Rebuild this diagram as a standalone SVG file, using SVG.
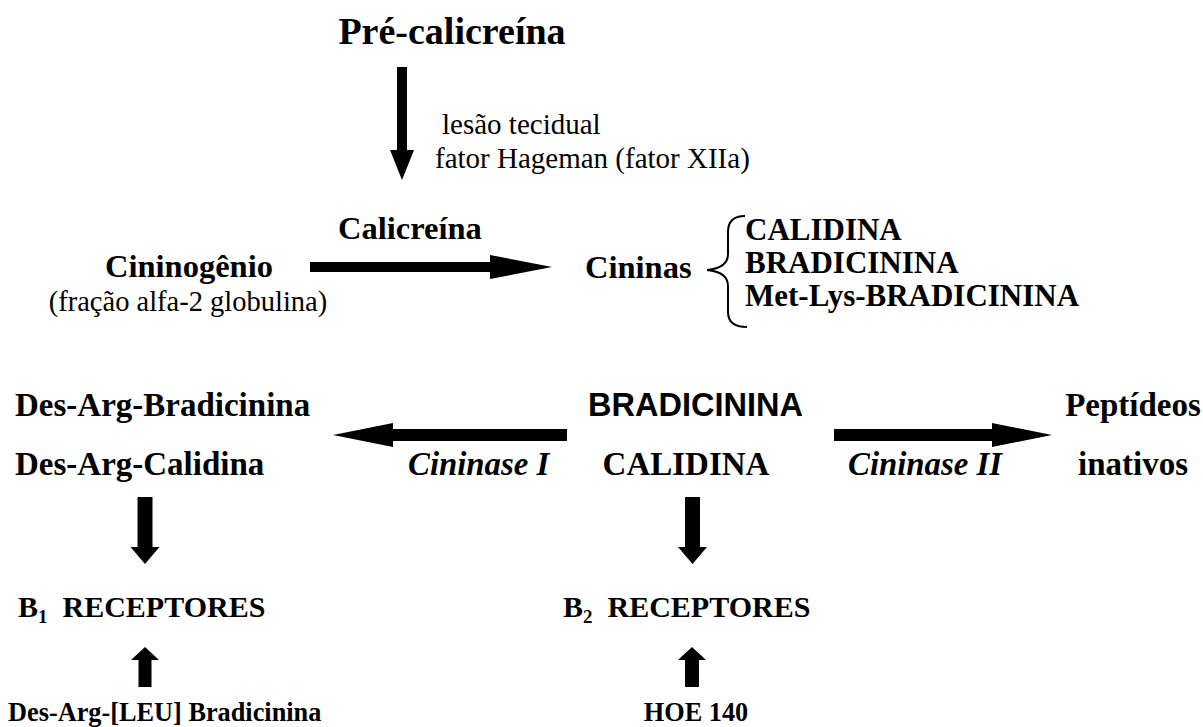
<svg xmlns="http://www.w3.org/2000/svg" width="1203" height="727" viewBox="0 0 1203 727">
<style>
text{fill:#000}
.t{font-family:"Liberation Serif","Times New Roman",serif;font-weight:bold;font-size:38px}
.b{font-family:"Liberation Serif","Times New Roman",serif;font-weight:bold;font-size:32.5px}
.b33{font-family:"Liberation Serif","Times New Roman",serif;font-weight:bold;font-size:33px}
.l{font-family:"Liberation Serif","Times New Roman",serif;font-weight:bold;font-size:31px}
.rc{font-family:"Liberation Serif","Times New Roman",serif;font-weight:bold;font-size:30px}
.bi{font-family:"Liberation Serif","Times New Roman",serif;font-weight:bold;font-style:italic;font-size:32.8px}
.r{font-family:"Liberation Serif","Times New Roman",serif;font-size:29px}
.r2{font-family:"Liberation Serif","Times New Roman",serif;font-size:28.5px}
.s{font-family:"Liberation Sans",Arial,sans-serif;font-weight:bold;font-size:32.5px}
.sm{font-family:"Liberation Serif","Times New Roman",serif;font-weight:bold;font-size:26.3px}
.sub{font-size:19px}
.arr{fill:#000;stroke:none}
.brace{fill:none;stroke:#000;stroke-width:2}
</style>
<rect width="1203" height="727" fill="#fff"/>
<g id="connectors">
<polygon class="arr" points="397,67 407,67 407,150 414,150 402,180 390,150 397,150"/>
<polygon class="arr" points="310,262 490,262 490,255 552,267 490,279 490,272 310,272"/>
<polygon class="arr" points="567,429 393,429 393,423 333,435 393,447 393,441 567,441"/>
<polygon class="arr" points="834,429 992,429 992,423 1052,435 992,447 992,441 834,441"/>
<polygon class="arr" points="137.5,497 152.5,497 152.5,547 159.5,547 145,564 130.5,547 137.5,547"/>
<polygon class="arr" points="685,497 700,497 700,547 707,547 692.5,564 678,547 685,547"/>
<polygon class="arr" points="138.5,687 151.5,687 151.5,660 159,660 145,647 131,660 138.5,660"/>
<polygon class="arr" points="685,687 699,687 699,660 706,660 692,647 678,660 685,660"/>
<path class="brace" d="M745,216 Q728,216 728,232 L728,254 Q728,268 707,270 Q728,272 728,286 L728,312 Q728,327 747,327"/>
</g>
<g id="pre-calicreina"><text class="t" x="452" y="44" text-anchor="middle">Pré-calicreína</text></g>
<g id="ativacao">
<text class="r" x="442" y="134">lesão tecidual</text>
<text class="r" x="435" y="168">fator Hageman (fator XIIa)</text>
</g>
<g id="calicreina"><text class="b" x="338" y="239">Calicreína</text></g>
<g id="cininogenio">
<text class="b" x="189" y="277" text-anchor="middle">Cininogênio</text>
<text class="r2" x="188" y="311" text-anchor="middle">(fração alfa-2 globulina)</text>
</g>
<g id="cininas"><text class="b" x="585" y="278">Cininas</text></g>
<g id="lista-cininas">
<text class="l" x="745" y="240">CALIDINA</text>
<text class="l" x="745" y="273">BRADICININA</text>
<text class="l" x="745" y="306">Met-Lys-BRADICININA</text>
</g>
<g id="des-arg">
<text class="b33" x="15" y="416">Des-Arg-Bradicinina</text>
<text class="b33" x="15" y="475">Des-Arg-Calidina</text>
</g>
<g id="cininase-1"><text class="bi" x="408" y="475">Cininase I</text></g>
<g id="bradicinina-calidina">
<text class="s" x="588" y="416">BRADICININA</text>
<text class="b33" x="686" y="475" text-anchor="middle">CALIDINA</text>
</g>
<g id="cininase-2"><text class="bi" x="848" y="475">Cininase II</text></g>
<g id="peptideos">
<text class="b33" x="1133" y="416" text-anchor="middle">Peptídeos</text>
<text class="b33" x="1133" y="475" text-anchor="middle">inativos</text>
</g>
<g id="b1"><text class="rc" x="18" y="617">B<tspan class="sub" dy="6">1</tspan><tspan dy="-6" xml:space="preserve">  RECEPTORES</tspan></text></g>
<g id="b2"><text class="rc" x="563" y="617">B<tspan class="sub" dy="6">2</tspan><tspan dy="-6" xml:space="preserve">  RECEPTORES</tspan></text></g>
<g id="des-arg-leu"><text class="sm" x="8" y="721">Des-Arg-[LEU] Bradicinina</text></g>
<g id="hoe140"><text class="sm" x="696" y="721" text-anchor="middle">HOE 140</text></g>
</svg>
